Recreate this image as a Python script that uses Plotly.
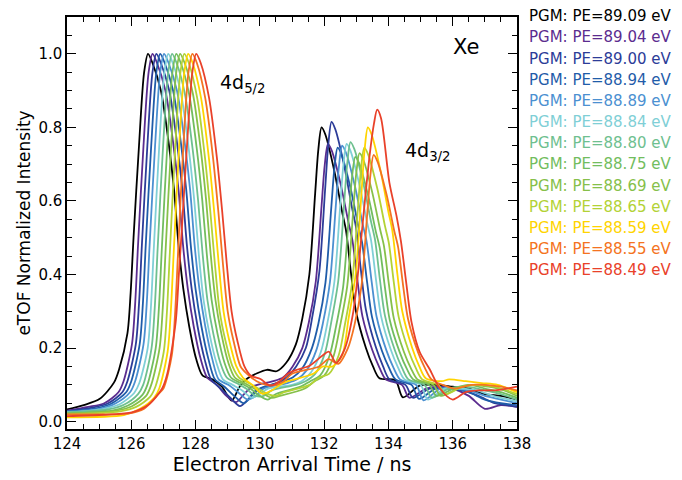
import plotly.graph_objects as go

# legend labels (photon energy of each scan) and line colours
pe_labels = ["PGM: PE=89.09 eV", "PGM: PE=89.04 eV", "PGM: PE=89.00 eV", "PGM: PE=88.94 eV",
             "PGM: PE=88.89 eV", "PGM: PE=88.84 eV", "PGM: PE=88.80 eV", "PGM: PE=88.75 eV",
             "PGM: PE=88.69 eV", "PGM: PE=88.65 eV", "PGM: PE=88.59 eV", "PGM: PE=88.55 eV",
             "PGM: PE=88.49 eV"]
line_colors = ["#000000", "#5b2c8f", "#2c3c98", "#1f5ca9", "#4b90d1", "#7fcfd6", "#6ec08f",
               "#72bd5e", "#86c04a", "#b3d236", "#ffd400", "#f47321", "#e9412a"]

# eTOF traces: arrival time (ns) / normalised intensity
t_8909 = [124.0, 124.52, 125.02, 125.46, 125.62, 125.88, 125.98, 126.07, 126.24, 126.40, 126.52, 126.66, 126.92, 127.16, 127.33, 127.47, 127.62, 127.80, 128.02, 128.22, 128.52, 128.82, 129.12, 129.37, 129.62, 130.22, 130.52, 130.82, 131.12, 131.32, 131.54, 131.72, 131.82, 131.92, 132.04, 132.32, 132.56, 132.68, 132.84, 132.99, 133.30, 133.52, 133.72, 134.22, 134.45, 134.97, 135.5, 136.0, 136.5, 137.0, 137.5, 138.0]
i_8909 = [0.033, 0.045, 0.062, 0.106, 0.142, 0.24, 0.35, 0.50, 0.75, 0.95, 1.0, 0.975, 0.90, 0.76, 0.63, 0.48, 0.36, 0.26, 0.17, 0.125, 0.115, 0.095, 0.057, 0.095, 0.118, 0.141, 0.137, 0.16, 0.21, 0.28, 0.40, 0.62, 0.74, 0.80, 0.78, 0.68, 0.57, 0.52, 0.40, 0.30, 0.20, 0.15, 0.118, 0.112, 0.066, 0.098, 0.10, 0.095, 0.09, 0.075, 0.07, 0.06]

t_8904 = [124.0, 124.66, 125.16, 125.60, 125.76, 126.02, 126.12, 126.21, 126.38, 126.54, 126.66, 126.80, 127.06, 127.30, 127.47, 127.61, 127.76, 127.94, 128.16, 128.36, 128.66, 128.96, 129.26, 129.51, 129.76, 130.42, 130.72, 131.02, 131.32, 131.52, 131.74, 131.92, 132.02, 132.12, 132.24, 132.52, 132.76, 132.88, 133.04, 133.19, 133.50, 133.72, 133.92, 134.42, 134.65, 135.17, 135.6, 136.0, 136.5, 137.0, 137.5, 138.0]
i_8904 = [0.03, 0.04, 0.05, 0.08, 0.11, 0.21, 0.32, 0.48, 0.75, 0.95, 1.0, 0.975, 0.90, 0.76, 0.63, 0.48, 0.36, 0.26, 0.17, 0.12, 0.10, 0.07, 0.053, 0.075, 0.095, 0.11, 0.12, 0.15, 0.20, 0.268, 0.381, 0.587, 0.699, 0.755, 0.736, 0.643, 0.54, 0.493, 0.381, 0.287, 0.194, 0.147, 0.115, 0.10, 0.065, 0.09, 0.095, 0.09, 0.07, 0.035, 0.045, 0.04]

t_8900 = [124.0, 124.78, 125.28, 125.72, 125.88, 126.14, 126.24, 126.33, 126.50, 126.66, 126.78, 126.92, 127.18, 127.42, 127.59, 127.73, 127.88, 128.06, 128.28, 128.48, 128.78, 129.08, 129.38, 129.63, 129.88, 130.53, 130.83, 131.13, 131.43, 131.63, 131.85, 132.03, 132.13, 132.23, 132.35, 132.63, 132.87, 132.99, 133.15, 133.30, 133.61, 133.83, 134.03, 134.53, 134.76, 135.28, 135.8, 136.3, 136.8, 137.3, 137.7, 138.0]
i_8900 = [0.028, 0.038, 0.05, 0.08, 0.11, 0.21, 0.32, 0.48, 0.75, 0.95, 1.0, 0.975, 0.90, 0.76, 0.63, 0.48, 0.36, 0.26, 0.17, 0.115, 0.09, 0.065, 0.042, 0.06, 0.085, 0.105, 0.12, 0.15, 0.20, 0.284, 0.407, 0.631, 0.754, 0.815, 0.794, 0.693, 0.58, 0.529, 0.407, 0.304, 0.202, 0.151, 0.115, 0.10, 0.065, 0.09, 0.09, 0.085, 0.07, 0.05, 0.045, 0.04]

t_8894 = [124.0, 124.90, 125.40, 125.84, 126.00, 126.26, 126.36, 126.45, 126.62, 126.78, 126.90, 127.04, 127.30, 127.54, 127.71, 127.85, 128.00, 128.18, 128.40, 128.60, 128.90, 129.20, 129.50, 129.75, 130.00, 130.72, 131.02, 131.32, 131.62, 131.82, 132.04, 132.22, 132.32, 132.42, 132.54, 132.82, 133.06, 133.18, 133.34, 133.49, 133.80, 134.02, 134.22, 134.72, 134.95, 135.47, 136.0, 136.5, 137.0, 137.5, 138.0]
i_8894 = [0.028, 0.036, 0.05, 0.08, 0.11, 0.21, 0.32, 0.48, 0.75, 0.95, 1.0, 0.975, 0.90, 0.76, 0.63, 0.48, 0.36, 0.26, 0.17, 0.115, 0.095, 0.07, 0.05, 0.07, 0.09, 0.11, 0.12, 0.145, 0.20, 0.266, 0.377, 0.579, 0.69, 0.745, 0.726, 0.635, 0.533, 0.487, 0.377, 0.284, 0.192, 0.146, 0.115, 0.10, 0.062, 0.09, 0.09, 0.08, 0.06, 0.05, 0.045]

t_8889 = [124.0, 125.02, 125.52, 125.96, 126.12, 126.38, 126.48, 126.57, 126.74, 126.90, 127.02, 127.16, 127.42, 127.66, 127.83, 127.97, 128.12, 128.30, 128.52, 128.72, 129.02, 129.32, 129.62, 129.87, 130.12, 130.86, 131.16, 131.46, 131.76, 131.96, 132.18, 132.36, 132.46, 132.56, 132.68, 132.96, 133.20, 133.32, 133.48, 133.63, 133.94, 134.16, 134.36, 134.86, 135.09, 135.61, 136.0, 136.5, 137.0, 137.5, 138.0]
i_8889 = [0.027, 0.035, 0.05, 0.08, 0.11, 0.21, 0.32, 0.48, 0.75, 0.95, 1.0, 0.975, 0.90, 0.76, 0.63, 0.48, 0.36, 0.26, 0.17, 0.115, 0.10, 0.08, 0.06, 0.07, 0.09, 0.105, 0.115, 0.14, 0.195, 0.267, 0.379, 0.583, 0.694, 0.75, 0.731, 0.639, 0.536, 0.49, 0.379, 0.286, 0.193, 0.146, 0.115, 0.10, 0.058, 0.09, 0.09, 0.085, 0.07, 0.06, 0.05]

t_8884 = [124.0, 125.15, 125.65, 126.09, 126.25, 126.51, 126.61, 126.70, 126.87, 127.03, 127.15, 127.29, 127.55, 127.79, 127.96, 128.10, 128.25, 128.43, 128.65, 128.85, 129.15, 129.45, 129.75, 130.00, 130.25, 131.00, 131.30, 131.60, 131.90, 132.10, 132.32, 132.50, 132.60, 132.70, 132.82, 133.10, 133.34, 133.46, 133.62, 133.77, 134.08, 134.30, 134.50, 135.00, 135.23, 135.75, 136.25, 136.75, 137.25, 137.75, 138.0]
i_8884 = [0.025, 0.035, 0.048, 0.078, 0.105, 0.20, 0.31, 0.47, 0.75, 0.95, 1.0, 0.975, 0.89, 0.74, 0.60, 0.455, 0.33, 0.24, 0.16, 0.115, 0.10, 0.085, 0.065, 0.075, 0.09, 0.10, 0.11, 0.135, 0.19, 0.268, 0.381, 0.587, 0.699, 0.755, 0.736, 0.643, 0.54, 0.493, 0.381, 0.287, 0.194, 0.147, 0.115, 0.10, 0.06, 0.09, 0.09, 0.085, 0.07, 0.06, 0.055]

t_8880 = [124.0, 125.27, 125.77, 126.21, 126.37, 126.63, 126.73, 126.82, 126.99, 127.15, 127.27, 127.41, 127.67, 127.91, 128.08, 128.22, 128.37, 128.55, 128.77, 128.97, 129.27, 129.57, 129.87, 130.12, 130.37, 131.12, 131.42, 131.72, 132.02, 132.22, 132.44, 132.62, 132.72, 132.82, 132.94, 133.22, 133.46, 133.58, 133.74, 133.89, 134.20, 134.42, 134.62, 135.12, 135.35, 135.87, 136.4, 137.0, 137.5, 138.0]
i_8880 = [0.025, 0.033, 0.046, 0.075, 0.10, 0.20, 0.31, 0.47, 0.75, 0.95, 1.0, 0.975, 0.89, 0.74, 0.60, 0.455, 0.33, 0.24, 0.16, 0.12, 0.105, 0.09, 0.07, 0.07, 0.085, 0.10, 0.11, 0.13, 0.185, 0.27, 0.383, 0.59, 0.703, 0.76, 0.741, 0.647, 0.543, 0.496, 0.383, 0.289, 0.194, 0.147, 0.115, 0.10, 0.065, 0.09, 0.095, 0.085, 0.075, 0.06]

t_8875 = [124.0, 125.40, 125.90, 126.34, 126.50, 126.76, 126.86, 126.95, 127.12, 127.28, 127.40, 127.54, 127.80, 128.04, 128.21, 128.35, 128.50, 128.68, 128.90, 129.10, 129.40, 129.70, 130.00, 130.25, 130.50, 131.27, 131.57, 131.87, 132.17, 132.37, 132.59, 132.77, 132.87, 132.97, 133.09, 133.37, 133.61, 133.73, 133.89, 134.04, 134.35, 134.57, 134.77, 135.27, 135.50, 136.02, 136.5, 137.0, 137.5, 138.0]
i_8875 = [0.022, 0.03, 0.044, 0.072, 0.10, 0.20, 0.31, 0.47, 0.75, 0.95, 1.0, 0.975, 0.89, 0.74, 0.60, 0.455, 0.33, 0.24, 0.16, 0.12, 0.105, 0.09, 0.07, 0.06, 0.075, 0.095, 0.11, 0.125, 0.18, 0.259, 0.366, 0.561, 0.667, 0.72, 0.702, 0.614, 0.516, 0.472, 0.366, 0.277, 0.189, 0.144, 0.115, 0.10, 0.07, 0.09, 0.10, 0.09, 0.08, 0.065]

t_8869 = [124.0, 125.52, 126.02, 126.46, 126.62, 126.88, 126.98, 127.07, 127.24, 127.40, 127.52, 127.66, 127.92, 128.16, 128.33, 128.47, 128.62, 128.80, 129.02, 129.22, 129.52, 129.82, 130.12, 130.37, 130.62, 131.40, 131.70, 132.00, 132.30, 132.50, 132.72, 132.90, 133.00, 133.10, 133.22, 133.50, 133.74, 133.86, 134.02, 134.17, 134.48, 134.70, 134.90, 135.40, 135.63, 136.15, 136.6, 137.1, 137.6, 138.0]
i_8869 = [0.022, 0.03, 0.042, 0.07, 0.10, 0.20, 0.31, 0.47, 0.75, 0.95, 1.0, 0.975, 0.89, 0.74, 0.60, 0.455, 0.33, 0.24, 0.16, 0.12, 0.105, 0.09, 0.075, 0.065, 0.07, 0.09, 0.11, 0.125, 0.18, 0.262, 0.37, 0.568, 0.676, 0.73, 0.712, 0.622, 0.523, 0.478, 0.37, 0.28, 0.19, 0.145, 0.115, 0.10, 0.07, 0.09, 0.10, 0.095, 0.085, 0.07]

t_8865 = [124.0, 125.65, 126.15, 126.59, 126.75, 127.01, 127.11, 127.20, 127.37, 127.53, 127.65, 127.79, 128.05, 128.29, 128.46, 128.60, 128.75, 128.93, 129.15, 129.35, 129.65, 129.95, 130.25, 130.50, 130.75, 131.55, 131.85, 132.15, 132.45, 132.65, 132.87, 133.05, 133.15, 133.25, 133.37, 133.65, 133.89, 134.01, 134.17, 134.32, 134.63, 134.85, 135.05, 135.55, 135.78, 136.30, 136.8, 137.3, 138.0]
i_8865 = [0.02, 0.028, 0.04, 0.068, 0.095, 0.19, 0.30, 0.46, 0.75, 0.95, 1.0, 0.975, 0.88, 0.72, 0.57, 0.43, 0.30, 0.22, 0.15, 0.12, 0.105, 0.09, 0.075, 0.07, 0.08, 0.10, 0.12, 0.13, 0.18, 0.266, 0.377, 0.579, 0.69, 0.745, 0.726, 0.635, 0.533, 0.487, 0.377, 0.284, 0.192, 0.146, 0.115, 0.10, 0.075, 0.095, 0.10, 0.095, 0.075]

t_8859 = [124.0, 125.77, 126.27, 126.71, 126.87, 127.13, 127.23, 127.32, 127.49, 127.65, 127.77, 127.91, 128.17, 128.41, 128.58, 128.72, 128.87, 129.05, 129.27, 129.47, 129.77, 130.07, 130.37, 130.62, 130.87, 131.66, 131.96, 132.26, 132.56, 132.76, 132.98, 133.16, 133.26, 133.36, 133.48, 133.76, 134.00, 134.12, 134.28, 134.43, 134.74, 134.96, 135.16, 135.66, 135.89, 136.41, 136.9, 137.4, 138.0]
i_8859 = [0.012, 0.018, 0.035, 0.065, 0.09, 0.19, 0.30, 0.46, 0.75, 0.95, 1.0, 0.975, 0.88, 0.72, 0.57, 0.43, 0.30, 0.22, 0.15, 0.12, 0.10, 0.076, 0.085, 0.10, 0.11, 0.13, 0.15, 0.15, 0.18, 0.28, 0.40, 0.62, 0.74, 0.80, 0.78, 0.68, 0.57, 0.52, 0.40, 0.30, 0.20, 0.15, 0.118, 0.11, 0.115, 0.11, 0.105, 0.10, 0.08]

t_8855 = [124.0, 125.0, 125.90, 126.40, 126.84, 127.00, 127.26, 127.36, 127.45, 127.62, 127.78, 127.90, 128.04, 128.30, 128.54, 128.71, 128.85, 129.00, 129.18, 129.40, 129.60, 129.90, 130.20, 130.50, 130.75, 131.00, 131.84, 132.14, 132.44, 132.74, 132.94, 133.16, 133.34, 133.44, 133.54, 133.66, 133.94, 134.18, 134.30, 134.46, 134.61, 134.92, 135.14, 135.34, 135.84, 136.07, 136.59, 137.0, 137.5, 138.0]
i_8855 = [0.02, 0.02, 0.022, 0.035, 0.075, 0.09, 0.18, 0.29, 0.45, 0.75, 0.95, 1.0, 0.975, 0.88, 0.72, 0.57, 0.43, 0.30, 0.22, 0.15, 0.13, 0.11, 0.10, 0.10, 0.11, 0.13, 0.15, 0.17, 0.157, 0.20, 0.261, 0.368, 0.564, 0.671, 0.725, 0.707, 0.618, 0.519, 0.475, 0.368, 0.279, 0.189, 0.145, 0.115, 0.095, 0.09, 0.10, 0.10, 0.095, 0.085]

t_8849 = [124.0, 125.0, 125.7, 126.02, 126.52, 126.96, 127.12, 127.38, 127.48, 127.57, 127.74, 127.90, 128.02, 128.16, 128.42, 128.66, 128.83, 128.97, 129.12, 129.30, 129.52, 129.72, 130.02, 130.32, 130.62, 130.87, 131.12, 131.55, 131.95, 132.15, 132.37, 132.65, 132.89, 133.05, 133.15, 133.41, 133.55, 133.65, 133.77, 134.03, 134.25, 134.39, 134.55, 134.72, 134.97, 135.28, 135.6, 136.0, 136.4, 136.8, 137.3, 137.7, 138.0]
i_8849 = [0.015, 0.018, 0.022, 0.025, 0.045, 0.09, 0.13, 0.27, 0.40, 0.52, 0.76, 0.95, 1.0, 0.975, 0.88, 0.72, 0.57, 0.43, 0.30, 0.22, 0.15, 0.125, 0.116, 0.098, 0.11, 0.13, 0.14, 0.152, 0.18, 0.19, 0.16, 0.20, 0.29, 0.40, 0.495, 0.72, 0.81, 0.848, 0.825, 0.65, 0.56, 0.49, 0.38, 0.27, 0.19, 0.143, 0.09, 0.06, 0.08, 0.085, 0.085, 0.09, 0.095]

times = [t_8909, t_8904, t_8900, t_8894, t_8889, t_8884, t_8880,
         t_8875, t_8869, t_8865, t_8859, t_8855, t_8849]
intensities = [i_8909, i_8904, i_8900, i_8894, i_8889, i_8884, i_8880,
               i_8875, i_8869, i_8865, i_8859, i_8855, i_8849]

FONT = "DejaVu Sans"

fig = go.Figure()
for t, y, col, name in zip(times, intensities, line_colors, pe_labels):
    fig.add_trace(go.Scatter(x=t, y=y, mode="lines", name=name,
                             line=dict(color=col, width=1.8, shape="spline", smoothing=0.8),
                             showlegend=False))

# coloured legend text on the right
for k, (name, col) in enumerate(zip(pe_labels, line_colors)):
    fig.add_annotation(text=name, xref="paper", yref="paper", x=1.022, y=1.002 - k * 0.0514,
                       xanchor="left", yanchor="middle", showarrow=False,
                       font=dict(family=FONT, size=15, color=col))

fig.add_annotation(text="Xe", xref="paper", yref="paper", x=0.887, y=0.928,
                   xanchor="center", yanchor="middle", showarrow=False,
                   font=dict(family=FONT, size=21, color="black"))
fig.add_annotation(text="4d<sub>5/2</sub>", x=128.7, y=0.92, xanchor="left", yanchor="middle",
                   showarrow=False, font=dict(family=FONT, size=19, color="black"))
fig.add_annotation(text="4d<sub>3/2</sub>", x=134.45, y=0.735, xanchor="left", yanchor="middle",
                   showarrow=False, font=dict(family=FONT, size=19, color="black"))

axis_common = dict(showline=True, linecolor="black", linewidth=1.5, mirror="allticks",
                   ticks="inside", tickcolor="black", tickwidth=1.2, showgrid=False,
                   zeroline=False, tickfont=dict(family=FONT, size=15, color="black"))

fig.update_xaxes(range=[124, 138], dtick=2, ticklen=9,
                 minor=dict(dtick=0.5, ticks="inside", ticklen=5, tickcolor="black"),
                 title=dict(text="Electron Arrival Time / ns", font=dict(family=FONT, size=19, color="black"),
                            standoff=4),
                 **axis_common)
fig.update_yaxes(range=[-0.02, 1.1], dtick=0.2, tickformat=".1f", ticklen=9,
                 minor=dict(dtick=0.05, ticks="inside", ticklen=5, tickcolor="black"),
                 title=dict(text="eTOF Normalized Intensity", font=dict(family=FONT, size=17, color="black"),
                            standoff=3),
                 **axis_common)

# the page body keeps its default 8px margin, so the figure is sized and placed to allow for it
fig.update_layout(width=674, height=472, plot_bgcolor="white", paper_bgcolor="white",
                  margin=dict(l=59, r=165, t=7, b=51))

fig.write_html("out.html")
